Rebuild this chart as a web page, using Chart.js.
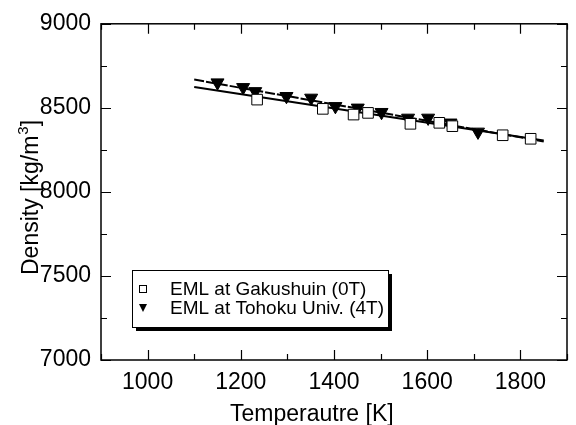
<!DOCTYPE html>
<html>
<head>
<meta charset="utf-8">
<script src="https://cdn.jsdelivr.net/npm/chart.js@4.4.0/dist/chart.umd.min.js"></script>
<style>
  html, body { margin: 0; padding: 0; background: #fff; }
</style>
</head>
<body>
<canvas id="densityChart" width="576" height="425"></canvas>
<script>
// Valeurs
const gakuT = [1235, 1376, 1442, 1473, 1564, 1626, 1654, 1762, 1822];
const gakuD = [8549, 8494, 8460, 8470, 8405, 8411, 8391, 8337, 8316];
const tohokuT = [1150, 1205, 1231, 1298, 1351, 1403, 1451, 1502, 1559, 1602, 1650, 1709];
const tohokuD = [8650, 8622, 8598, 8569, 8559, 8509, 8500, 8474, 8440, 8440, 8411, 8357];

// Droites d'ajustement
const gakuFitT = [1100, 1850];
const gakuFitD = [8624, 8306];
const tohokuFitT = [1100, 1850];
const tohokuFitD = [8668, 8300];

const xLabels = [1000, 1200, 1400, 1600, 1800];
const yLabels = [7000, 7500, 8000, 8500, 9000];

const legendItems = ['EML at Gakushuin (0T)', 'EML at Tohoku Univ. (4T)'];
const FONT = '"Liberation Sans", Arial, sans-serif';

function pts(xs, ys) {
  return xs.map((x, i) => ({ x: x, y: ys[i] }));
}

// Cadre, graduations intérieures, titres et légende
const decorations = {
  id: 'decorations',
  afterDraw(chart) {
    const ctx = chart.ctx;
    const a = chart.chartArea;
    const xs = chart.scales.x;
    const ys = chart.scales.y;
    ctx.save();
    ctx.strokeStyle = '#000';
    ctx.lineWidth = 1.5;
    ctx.strokeRect(a.left, a.top, a.right - a.left, a.bottom - a.top);

    ctx.lineWidth = 1.2;
    ctx.beginPath();
    xs.ticks.forEach(t => {
      const px = Math.round(xs.getPixelForValue(t.value)) + 0.5;
      const len = t.value % 200 === 0 ? 10 : 6;
      ctx.moveTo(px, a.bottom); ctx.lineTo(px, a.bottom - len);
      ctx.moveTo(px, a.top); ctx.lineTo(px, a.top + len);
    });
    ys.ticks.forEach(t => {
      const py = Math.round(ys.getPixelForValue(t.value)) + 0.5;
      const len = t.value % 500 === 0 ? 10 : 6;
      ctx.moveTo(a.left, py); ctx.lineTo(a.left + len, py);
      ctx.moveTo(a.right, py); ctx.lineTo(a.right - len, py);
    });
    ctx.stroke();

    // titre de l'axe x
    ctx.fillStyle = '#000';
    ctx.font = '23px ' + FONT;
    ctx.textAlign = 'left';
    ctx.textBaseline = 'alphabetic';
    ctx.fillText('Temperautre [K]', 230, 421);

    // titre de l'axe y avec exposant
    ctx.save();
    ctx.translate(38, 275);
    ctx.rotate(-Math.PI / 2);
    ctx.font = '23px ' + FONT;
    let s = 'Density [kg/m';
    ctx.fillText(s, 0, 0);
    let w = ctx.measureText(s).width;
    ctx.font = '15px ' + FONT;
    ctx.fillText('3', w + 1, -10);
    w += ctx.measureText('3').width + 1;
    ctx.font = '23px ' + FONT;
    ctx.fillText(']', w, 0);
    ctx.restore();

    // légende
    const lx = 132, ly = 270, lw = 256, lh = 57;
    ctx.fillStyle = '#000';
    ctx.fillRect(lx + 4, ly + 4, lw, lh);
    ctx.fillStyle = '#fff';
    ctx.fillRect(lx, ly, lw, lh);
    ctx.strokeStyle = '#000';
    ctx.lineWidth = 1;
    ctx.strokeRect(lx + 0.5, ly + 0.5, lw, lh);

    const rows = [289, 308];
    ctx.strokeRect(139.5, rows[0] - 3.5, 7, 7);
    ctx.beginPath();
    ctx.moveTo(139, rows[1] - 4);
    ctx.lineTo(147, rows[1] - 4);
    ctx.lineTo(143, rows[1] + 4);
    ctx.closePath();
    ctx.fillStyle = '#000';
    ctx.fill();

    ctx.font = '19px ' + FONT;
    ctx.textBaseline = 'middle';
    legendItems.forEach((txt, i) => ctx.fillText(txt, 170, rows[i] + 1));
    ctx.restore();
  }
};

const config = {
  type: 'scatter',
  data: {
    datasets: [
      {
        label: legendItems[0],
        data: pts(gakuT, gakuD),
        pointStyle: 'rect',
        pointRadius: 7.5,
        pointBackgroundColor: '#fff',
        pointBorderColor: '#000',
        pointBorderWidth: 1,
        showLine: false,
      },
      {
        label: legendItems[1],
        data: pts(tohokuT, tohokuD),
        pointStyle: 'triangle',
        pointRotation: 180,
        pointRadius: 7.5,
        pointBackgroundColor: '#000',
        pointBorderColor: '#000',
        pointBorderWidth: 1,
        showLine: false,
      },
      {
        label: 'fit 0T',
        data: pts(gakuFitT, gakuFitD),
        showLine: true,
        borderColor: '#000',
        borderWidth: 2,
        pointRadius: 0,
      },
      {
        label: 'fit 4T',
        data: pts(tohokuFitT, tohokuFitD),
        showLine: true,
        borderColor: '#000',
        borderWidth: 2,
        borderDash: [10, 2],
        pointRadius: 0,
      },
    ],
  },
  options: {
    responsive: false,
    animation: false,
    devicePixelRatio: 1,
    layout: { padding: { top: 23, right: 1, left: 0, bottom: 0 } },
    plugins: {
      legend: { display: false },
      tooltip: { enabled: false },
    },
    scales: {
      x: {
        type: 'linear',
        min: 900,
        max: 1900,
        grid: { display: false, drawTicks: false },
        border: { display: false },
        afterFit: s => { s.height = 65; },
        ticks: {
          stepSize: 100,
          autoSkip: false,
          maxRotation: 0,
          padding: 9,
          color: '#000',
          font: { family: FONT, size: 23 },
          callback: v => (xLabels.includes(v) ? String(v) : ''),
        },
      },
      y: {
        min: 7000,
        max: 9000,
        grid: { display: false, drawTicks: false },
        border: { display: false },
        afterFit: s => { s.width = 101; },
        ticks: {
          stepSize: 250,
          autoSkip: false,
          padding: 10,
          color: '#000',
          font: { family: FONT, size: 23 },
          callback: v => (yLabels.includes(v) ? String(v) : ''),
        },
      },
    },
  },
  plugins: [decorations],
};

const ctx = document.getElementById('densityChart').getContext('2d');
const densityChart = new Chart(ctx, config);
</script>
</body>
</html>
